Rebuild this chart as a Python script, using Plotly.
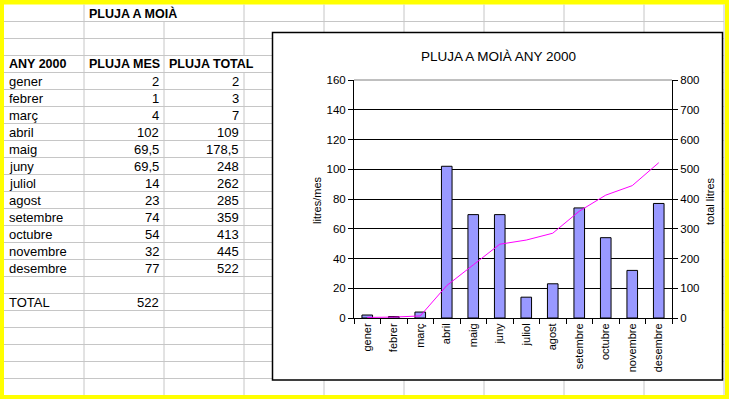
import plotly.graph_objects as go

W, H = 729, 399

# ---- data ----
months = ["gener", "febrer", "març", "abril", "maig", "juny", "juliol",
          "agost", "setembre", "octubre", "novembre", "desembre"]
pluja_mes = [2, 1, 4, 102, 69.5, 69.5, 14, 23, 74, 54, 32, 77]
pluja_total = [2, 3, 7, 109, 178.5, 248, 262, 285, 359, 413, 445, 522]
total = 522
sheet_title = "PLUJA A MOIÀ"
chart_title = "PLUJA A MOIÀ ANY 2000"
headers = ["ANY 2000", "PLUJA MES", "PLUJA TOTAL"]
left_ticks = [0, 20, 40, 60, 80, 100, 120, 140, 160]
right_ticks = [0, 100, 200, 300, 400, 500, 600, 700, 800]

FONT = "Liberation Sans, Arial, sans-serif"


def X(px):
    return px / W


def Y(py):
    return 1 - py / H


def fmt(v):
    s = ("%g" % v)
    return s.replace(".", ",")


shapes = []
annotations = []

# white sheet
shapes.append(dict(type="rect", xref="paper", yref="paper", layer="below",
                   x0=X(4), x1=X(725), y0=Y(395), y1=Y(4.5),
                   fillcolor="white", line=dict(width=0)))

GRID = "#c6c6c6"
row_h = 17
row0 = 4.5
col_x = [4, 84, 164, 244, 324, 404, 484, 564, 644, 724]
# horizontal grid lines
for k in range(22):
    yy = row0 + row_h * (k + 1)
    shapes.append(dict(type="line", xref="paper", yref="paper", layer="below",
                       x0=X(4), x1=X(724), y0=Y(yy), y1=Y(yy),
                       line=dict(color=GRID, width=1)))
# vertical grid lines (broken where text overflows)
for cx in col_x[1:]:
    segs = [(row0, 395)]
    if cx == 164:
        segs = [(row0 + row_h, 395)]
    if cx == 244:
        segs = [(row0, row0 + 3 * row_h), (row0 + 4 * row_h, 395)]
    for a, b in segs:
        shapes.append(dict(type="line", xref="paper", yref="paper", layer="below",
                           x0=X(cx), x1=X(cx), y0=Y(a), y1=Y(b),
                           line=dict(color=GRID, width=1)))

# chart box
shapes.append(dict(type="rect", xref="paper", yref="paper", layer="below",
                   x0=X(272.5), x1=X(722.5), y0=Y(380), y1=Y(32.5),
                   fillcolor="white", line=dict(color="black", width=1.5)))

# grey plot-area top border
shapes.append(dict(type="line", xref="x domain", yref="y domain", layer="above",
                   x0=0, x1=1, y0=1, y1=1, line=dict(color="#808080", width=1)))


def cell(text, row, col, align="left", bold=False):
    yc = row0 + row_h * row + row_h / 2 + 0.5
    if align == "left":
        xx = col_x[col] + 3
    else:
        xx = col_x[col + 1] - 3
    annotations.append(dict(text=("<b>%s</b>" % text) if bold else text,
                            xref="paper", yref="paper", x=X(xx), y=Y(yc),
                            xanchor=align, yanchor="middle", showarrow=False,
                            font=dict(family=FONT, size=12.5 if bold else 13,
                                      color="black")))


cell(sheet_title, 0, 1, bold=True)
for i, h in enumerate(headers):
    cell(h, 3, i, bold=True)
for i, m in enumerate(months):
    cell(m, 4 + i, 0)
    cell(fmt(pluja_mes[i]), 4 + i, 1, align="right")
    cell(fmt(pluja_total[i]), 4 + i, 2, align="right")
cell("TOTAL", 17, 0)
cell(fmt(total), 17, 1, align="right")

# chart texts
annotations.append(dict(text=chart_title, xref="paper", yref="paper",
                        x=X(498), y=Y(57), xanchor="center", yanchor="middle",
                        showarrow=False,
                        font=dict(family=FONT, size=13.5, color="black")))
annotations.append(dict(text="litres/mes", xref="paper", yref="paper",
                        x=X(317), y=Y(200), xanchor="center", yanchor="middle",
                        textangle=-90, showarrow=False,
                        font=dict(family=FONT, size=11, color="black")))
annotations.append(dict(text="total litres", xref="paper", yref="paper",
                        x=X(710), y=Y(201), xanchor="center", yanchor="middle",
                        textangle=-90, showarrow=False,
                        font=dict(family=FONT, size=11, color="black")))

fig = go.Figure()
fig.add_trace(go.Bar(x=months, y=pluja_mes, marker=dict(color="#9999FF",
                     line=dict(color="black", width=1)), yaxis="y",
                     showlegend=False, hoverinfo="skip"))
fig.add_trace(go.Scatter(x=months, y=pluja_total, mode="lines",
                         line=dict(color="#FF00FF", width=1), yaxis="y2",
                         showlegend=False, hoverinfo="skip"))

tickfont = dict(family=FONT, size=11.5, color="black")
fig.update_layout(
    width=W, height=H, autosize=False,
    margin=dict(l=0, r=0, t=0, b=0, pad=0, autoexpand=False),
    paper_bgcolor="#FFFF00",
    plot_bgcolor="rgba(0,0,0,0)",
    showlegend=False,
    bargap=0.6,
    shapes=shapes,
    annotations=annotations,
    xaxis=dict(domain=[X(354), X(672)], type="category", automargin=False,
               range=[-0.5, 11.5], tickangle=-90, tickson="boundaries",
               ticks="outside", ticklen=5, tickcolor="black",
               showline=True, linecolor="black", linewidth=1,
               showgrid=False, tickfont=dict(family=FONT, size=11, color="black"),
               anchor="y"),
    yaxis=dict(domain=[Y(318), Y(80)], range=[0, 160], tickvals=left_ticks,
               automargin=False,
               ticks="outside", ticklen=5, tickcolor="black",
               showline=True, linecolor="black", linewidth=1,
               showgrid=True, gridcolor="black", gridwidth=1,
               zeroline=False, tickfont=tickfont, anchor="x"),
    yaxis2=dict(domain=[Y(318), Y(80)], range=[0, 800], tickvals=right_ticks,
                automargin=False,
                overlaying="y", side="right", anchor="x",
                ticks="outside", ticklen=5, tickcolor="black",
                showline=True, linecolor="black", linewidth=1,
                showgrid=False, zeroline=False, tickfont=tickfont),
)

fig.write_html("out.html", config={"displayModeBar": False},
               post_script="document.body.style.margin='0px';"
                           "document.body.style.overflow='hidden';")
